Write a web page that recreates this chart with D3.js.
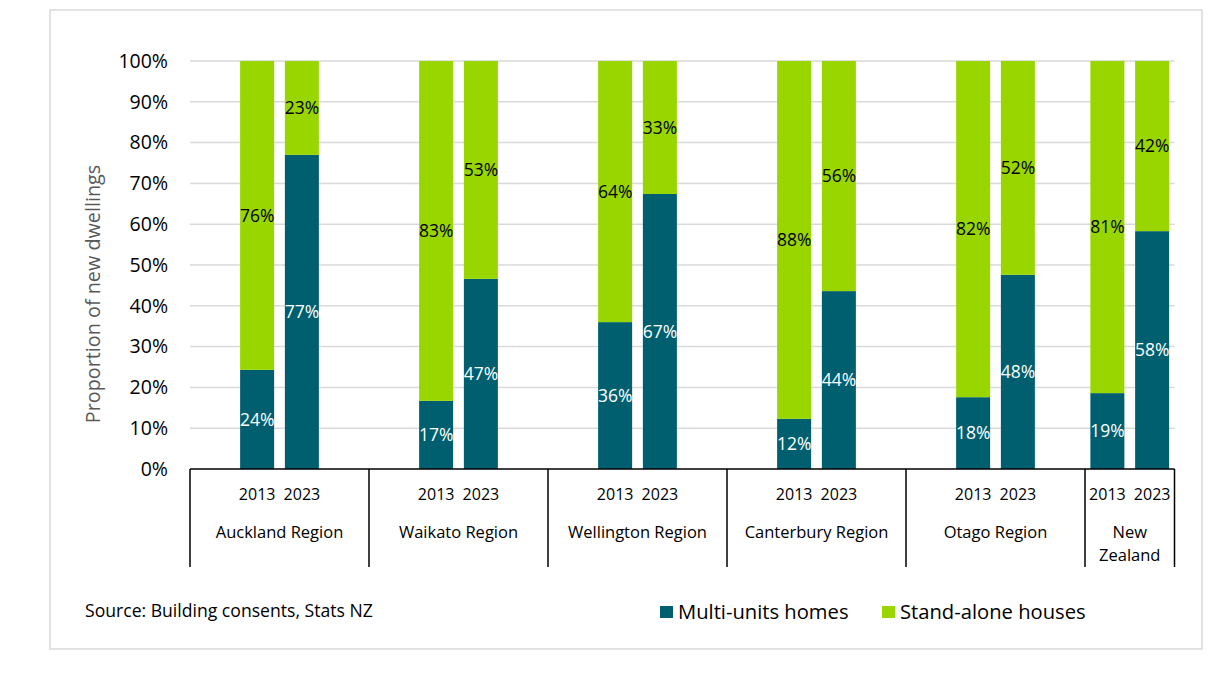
<!DOCTYPE html>
<html><head><meta charset="utf-8">
<script src="https://cdn.jsdelivr.net/npm/d3@7"></script>
<style>
html,body{margin:0;padding:0;background:#fff;}
text{font-family:"Open Sans","Noto Sans",sans-serif;}
</style></head>
<body><svg id="chart" width="1228" height="675"></svg>
<script>
// ---- data ----
const regions = ["Auckland Region","Waikato Region","Wellington Region","Canterbury Region","Otago Region","New Zealand"];
const years = ["2013","2023"];
const multiUnits2013 = [24.3,16.7,36.0,12.3,17.6,18.6];
const multiUnits2023 = [77.0,46.6,67.4,43.6,47.6,58.3];
const standAlone2013 = [75.7,83.3,64.0,87.7,82.4,81.4];
const standAlone2023 = [23.0,53.4,32.6,56.4,52.4,41.7];
const yTicks = [0,10,20,30,40,50,60,70,80,90,100];
const seriesNames = ["Multi-units homes","Stand-alone houses"];
const colors = ["#005F6F","#99D600"];

const svg = d3.select("#chart");
// frame
svg.append("rect").attr("x",50).attr("y",10).attr("width",1152).attr("height",639)
  .attr("fill","#fff").attr("stroke","#d9d9d9").attr("stroke-width",1.5);

// slots: pad, 2013, 2023, pad per region (last region without pads)
const slots = [];
regions.forEach((r,i)=>{
  const last = i===regions.length-1;
  if(!last) slots.push(r+"|pre");
  years.forEach(y=>slots.push(r+"|"+y));
  if(!last) slots.push(r+"|post");
});
const x = d3.scaleBand().domain(slots).range([190,1174.5]).paddingInner(0.24).paddingOuter(0.12);
const y = d3.scaleLinear().domain([0,100]).range([469,61]);
const half = (x.step()-x.bandwidth())/2;

// gridlines
svg.append("g").selectAll("line").data(yTicks.filter(t=>t>0)).join("line")
  .attr("x1",190).attr("x2",1174.5).attr("y1",d=>y(d)).attr("y2",d=>y(d))
  .attr("stroke","#d9d9d9").attr("stroke-width",1.5);

// y axis labels
const yAxis = d3.axisLeft(y).tickValues(yTicks).tickFormat(d=>d+"%").tickSize(0).tickPadding(0);
const ya = svg.append("g").attr("transform","translate(168,0)").call(yAxis);
ya.select(".domain").remove();
ya.selectAll("text").attr("font-size",19.5).attr("fill","#000").attr("font-family","Open Sans");

// y title
svg.append("text").attr("transform","translate(100,294) rotate(-90)")
  .attr("text-anchor","middle").attr("font-size",19.8).attr("fill","#595959")
  .text("Proportion of new dwellings");

// bars
const rows = [];
regions.forEach((r,i)=>{
  rows.push({key:r+"|2013", m:multiUnits2013[i], s:standAlone2013[i]});
  rows.push({key:r+"|2023", m:multiUnits2023[i], s:standAlone2023[i]});
});
const stack = d3.stack().keys(["m","s"]);
const stacked = stack(rows);
const fmt = v=>Math.round(v)+"%";
stacked.forEach((layer,li)=>{
  const g = svg.append("g");
  g.selectAll("rect").data(layer).join("rect")
    .attr("x",d=>x(d.data.key)).attr("width",x.bandwidth())
    .attr("y",d=>y(d[1])).attr("height",d=>y(d[0])-y(d[1]))
    .attr("fill",colors[li]);
  g.selectAll("text").data(layer).join("text")
    .attr("x",d=>x(d.data.key)+x.bandwidth()/2)
    .attr("y",d=>y((d[0]+d[1])/2)).attr("dy","0.35em")
    .attr("text-anchor","middle").attr("font-size",17.5)
    .attr("fill",li===0?"#fff":"#000")
    .text(d=>fmt(d[1]-d[0]));
});

// x axis
const axis = svg.append("g");
axis.append("line").attr("x1",190).attr("x2",1174.5).attr("y1",469).attr("y2",469)
  .attr("stroke","#000").attr("stroke-width",1.5);
const bounds = [];
regions.forEach((r,i)=>{
  const last = i===regions.length-1;
  const first = last ? r+"|2013" : r+"|pre";
  const end = last ? r+"|2023" : r+"|post";
  bounds.push({r, x0:x(first)-half, x1:x(end)+x.bandwidth()+half});
});
const sepX = [bounds[0].x0].concat(bounds.map(b=>b.x1));
axis.selectAll("line.sep").data(sepX).join("line").attr("class","sep")
  .attr("x1",d=>d).attr("x2",d=>d).attr("y1",469).attr("y2",567)
  .attr("stroke","#000").attr("stroke-width",1.5);
// year labels
regions.forEach(r=>{
  years.forEach(yr=>{
    axis.append("text").attr("x",x(r+"|"+yr)+x.bandwidth()/2).attr("y",494).attr("dy","0.35em")
      .attr("text-anchor","middle").attr("font-size",16).text(yr);
  });
});
// region labels
bounds.forEach(b=>{
  const cx=(b.x0+b.x1)/2;
  const words = b.r==="New Zealand" ? ["New","Zealand"] : [b.r];
  words.forEach((w,k)=>{
    axis.append("text").attr("x",cx).attr("y",532+k*23).attr("dy","0.35em")
      .attr("text-anchor","middle").attr("font-size",16.5).text(w);
  });
});

// source
svg.append("text").attr("x",85).attr("y",611).attr("dy","0.35em").attr("font-size",17.6)
  .text("Source: Building consents, Stats NZ");

// legend
const legX = [660,882];
seriesNames.forEach((n,i)=>{
  svg.append("rect").attr("x",legX[i]).attr("y",606).attr("width",13).attr("height",12).attr("fill",colors[i]);
  svg.append("text").attr("x",legX[i]+18).attr("y",612).attr("dy","0.35em").attr("font-size",20.2).text(n);
});
</script></body></html>
